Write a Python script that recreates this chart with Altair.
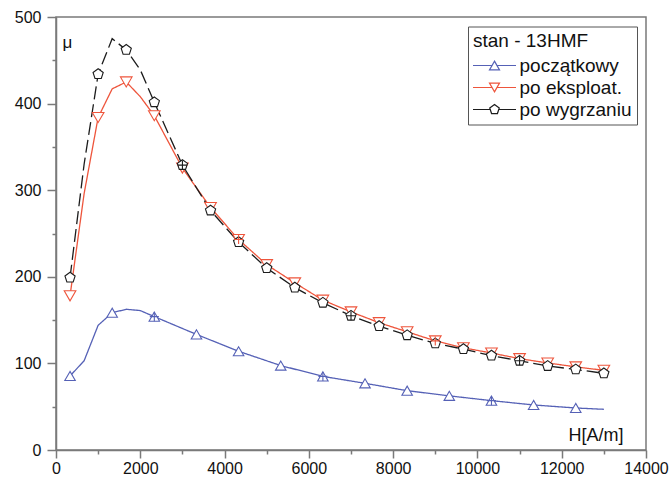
import altair as alt
import pandas as pd

SERIES = ["początkowy", "po eksploat.", "po wygrzaniu"]
COLORS = ["#5561b6", "#ee553c", "#1c1c1c"]

# --- początkowy (blue, triangle-up) ---
H_pocz = [333, 667, 1000, 1333, 1667, 2000, 2333, 3333, 4333, 5333, 6333,
          7333, 8333, 9333, 10333, 11333, 12333, 13000]
mu_pocz = [85.5, 103, 144, 158.5, 162.5, 161, 154, 133.5, 114, 97.5, 85,
           77, 68.5, 62.5, 57, 52, 48.5, 47]
mark_pocz = [333, 1333, 2333, 3333, 4333, 5333, 6333, 7333, 8333, 9333,
             10333, 11333, 12333]
cross_pocz = [2333, 6333, 10333]

# --- po eksploat. (red, triangle-down) ---
H_eksp = [333, 667, 1000, 1333, 1667, 2000, 2333, 3000, 3667, 4333, 5000,
          5667, 6333, 7000, 7667, 8333, 9000, 9667, 10333, 11000, 11667,
          12333, 13000]
mu_eksp = [178, 296, 384, 417, 425, 408, 386, 325.5, 280, 243, 214, 193,
           173, 159.5, 147, 136.5, 126, 118, 112, 105.5, 100.5, 96, 92]
mark_eksp = [333, 1000, 1667, 2333, 3000, 3667, 4333, 5000, 5667, 6333,
             7000, 7667, 8333, 9000, 9667, 10333, 11000, 11667, 12333, 13000]
cross_eksp = [4333, 9000]

# --- po wygrzaniu (black, pentagon, dashed) ---
H_wygr = [333, 667, 1000, 1333, 1667, 2000, 2333, 3000, 3667, 4333, 5000,
          5667, 6333, 7000, 7667, 8333, 9000, 9667, 10333, 11000, 11667,
          12333, 13000]
mu_wygr = [199, 330, 434, 475, 462, 439, 401.5, 329, 276.5, 240, 210, 187.5,
           170, 155, 143, 132.5, 123, 116.5, 109, 103, 97, 93, 88.5]
mark_wygr = [333, 1000, 1667, 2333, 3000, 3667, 4333, 5000, 5667, 6333,
             7000, 7667, 8333, 9000, 9667, 10333, 11000, 11667, 12333, 13000]
cross_wygr = [3000, 7000, 11000]

x_major_vals = [0, 2000, 4000, 6000, 8000, 10000, 12000, 14000]
x_minor_vals = [1000, 3000, 5000, 7000, 9000, 11000, 13000]
y_major_vals = [0, 100, 200, 300, 400, 500]
y_minor_vals = [50, 150, 250, 350, 450]

rows, mrows, crows = [], [], []
for name, Hs, mus, mk, cr in [
    (SERIES[0], H_pocz, mu_pocz, mark_pocz, cross_pocz),
    (SERIES[1], H_eksp, mu_eksp, mark_eksp, cross_eksp),
    (SERIES[2], H_wygr, mu_wygr, mark_wygr, cross_wygr),
]:
    for h, m in zip(Hs, mus):
        r = {"seria": name, "H": h, "mu": m}
        rows.append(r)
        if h in mk:
            mrows.append(r)
        if h in cr:
            crows.append(r)
df = pd.DataFrame(rows)
dfm = pd.DataFrame(mrows)
dfc = pd.DataFrame(crows)

FONT = "Liberation Sans"
AX = "#7a7a7a"
TXT = "#111111"

PENT = "M0,-1L0.951,-0.309L0.588,0.809L-0.588,0.809L-0.951,-0.309Z"
CROSS = "M-1,0L1,0M0,-1L0,1"
LEG_UP = "M-2.15,0L-0.25,0M0.25,0L2.15,0M0,-0.433L0.5,0.433L-0.5,0.433Z"
LEG_DOWN = "M-2.15,0L-0.25,0M0.25,0L2.15,0M0,0.433L0.5,-0.433L-0.5,-0.433Z"
LEG_PENT = ("M-2.15,0L-0.43,0M0.43,0L2.15,0M0,-0.5L0.476,-0.155L0.294,0.405"
            "L-0.294,0.405L-0.476,-0.155Z")
MARK_SHAPES = ["triangle-up", "triangle-down", PENT]
MARK_SIZES = [110, 135, 115]
DASHES = [[1, 0], [1, 0], [13, 5]]

xs = alt.Scale(domain=[0, 14000], nice=False, zero=False)
ys = alt.Scale(domain=[0, 500], nice=False, zero=False)

x_major = alt.Axis(orient="bottom", values=x_major_vals, tickSize=8, tickWidth=1.5,
                   tickColor=AX, domainColor=AX, domainWidth=1.5, grid=False,
                   labelFont=FONT, labelFontSize=16, labelColor=TXT, labelPadding=2,
                   labelFlush=False, labelOverlap=False, format="d",
                   title="H[A/m]", titleFont=FONT, titleFontSize=18,
                   titleFontWeight="normal", titleColor=TXT, titleAlign="left",
                   titleBaseline="alphabetic", titleX=512, titleY=-10)
y_major = alt.Axis(orient="left", values=y_major_vals, tickSize=9, tickWidth=1.5,
                   tickColor=AX, domainColor=AX, domainWidth=1.5, grid=False,
                   labelFont=FONT, labelFontSize=16, labelColor=TXT, labelPadding=6,
                   labelOverlap=False, format="d",
                   title="μ", titleFont=FONT, titleFontSize=17, titleAngle=0,
                   titleFontWeight="normal", titleColor=TXT, titleAlign="left",
                   titleBaseline="alphabetic", titleX=6, titleY=30)
x_minor = alt.Axis(orient="bottom", values=x_minor_vals, tickSize=4, tickWidth=1.5,
                   tickColor=AX, domain=False, grid=False, labels=False, title=None)
y_minor = alt.Axis(orient="left", values=y_minor_vals, tickSize=4, tickWidth=1.5,
                   tickColor=AX, domain=False, grid=False, labels=False, title=None)

layers = []
# lines
for i, s in enumerate(SERIES):
    layers.append(
        alt.Chart(df).transform_filter(alt.datum.seria == s)
        .mark_line(strokeWidth=1.3, color=COLORS[i], strokeDash=DASHES[i])
        .encode(
            x=alt.X("H:Q", scale=xs, axis=x_major if i == 0 else None),
            y=alt.Y("mu:Q", scale=ys, axis=y_major if i == 0 else None),
        )
    )
# markers
for i, s in enumerate(SERIES):
    layers.append(
        alt.Chart(dfm).transform_filter(alt.datum.seria == s)
        .mark_point(shape=MARK_SHAPES[i], size=MARK_SIZES[i], filled=True,
                    fill="white", stroke=COLORS[i], strokeWidth=1.1, opacity=1)
        .encode(
            x=alt.X("H:Q", scale=xs, axis=None),
            y=alt.Y("mu:Q", scale=ys, axis=None),
        )
    )
# crosses
for i, s in enumerate(SERIES):
    layers.append(
        alt.Chart(dfc).transform_filter(alt.datum.seria == s)
        .mark_point(shape=CROSS, size=81, filled=False, stroke=COLORS[i],
                    strokeWidth=1.1, opacity=1)
        .encode(
            x=alt.X("H:Q", scale=xs, axis=x_minor if i == 0 else None),
            y=alt.Y("mu:Q", scale=ys, axis=y_minor if i == 0 else None),
        )
    )

leg = alt.Legend(title="stan - 13HMF", orient="none", legendX=412, legendY=9.5,
                 padding=5, strokeColor="#555555", fillColor="white",
                 titleFont=FONT, titleFontSize=19, titleFontWeight="normal",
                 titleColor=TXT, titlePadding=4, labelFont=FONT,
                 labelFontSize=19, labelColor=TXT, labelOffset=14,
                 symbolOffset=10.5, rowPadding=1, symbolSize=400,
                 symbolStrokeWidth=1.2, symbolFillColor="white", cornerRadius=0)

legend_layer = alt.Chart(dfm).transform_filter("false").mark_point(
    size=400, filled=True, fill="white", strokeWidth=1.2, opacity=1).encode(
    x=alt.X("H:Q", scale=xs, axis=None),
    y=alt.Y("mu:Q", scale=ys, axis=None),
    stroke=alt.Stroke("seria:N", scale=alt.Scale(domain=SERIES, range=COLORS),
                      legend=leg),
    shape=alt.Shape("seria:N", scale=alt.Scale(
        domain=SERIES, range=[LEG_UP, LEG_DOWN, LEG_PENT]), legend=leg),
)
layers.append(legend_layer)

chart = alt.layer(*layers).resolve_axis(
    x="independent", y="independent"
).properties(
    width=590, height=433,
    padding={"left": 56, "top": 17, "right": 26, "bottom": 27},
    autosize="none",
    background="white",
).configure_view(stroke=AX, strokeWidth=1.5)

chart.save("out.html", embed_options={"renderer": "svg", "actions": False})
